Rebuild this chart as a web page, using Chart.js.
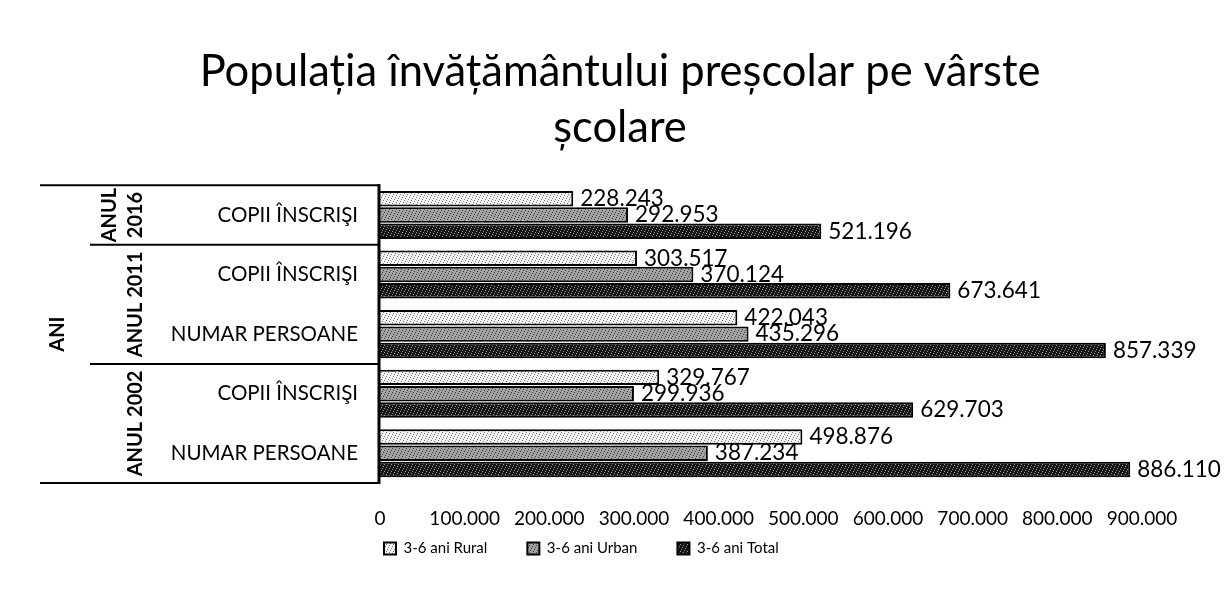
<!DOCTYPE html>
<html lang="ro">
<head>
    <meta charset="UTF-8">
    <title>Populația învățământului preșcolar</title>
    <script src="https://cdn.jsdelivr.net/npm/chart.js@4.4.0/dist/chart.umd.min.js"></script>
    <style>
        body { margin: 0; background: #fff; }
        .chart { position: relative; width: 1224px; height: 603px; }
    </style>
</head>
<body>
    <div class="chart">
        <canvas id="myChart" width="1224" height="603"></canvas>
    </div>

    <script>
        // date (de sus in jos)
        const yearLabels = ['ANUL 2016', 'ANUL 2011', 'ANUL 2002'];
        const rowLabels = ['COPII ÎNSCRIŞI', 'COPII ÎNSCRIŞI', 'NUMAR PERSOANE', 'COPII ÎNSCRIŞI', 'NUMAR PERSOANE'];
        const rowYear = [0, 1, 1, 2, 2];
        const outerLabel = 'ANI';
        const seriesNames = ['3-6 ani Rural', '3-6 ani Urban', '3-6 ani Total'];
        const rural = [228243, 303517, 422043, 329767, 498876];
        const urban = [292953, 370124, 435296, 299936, 387234];
        const total = [521196, 673641, 857339, 629703, 886110];
        const xTicks = [0, 100000, 200000, 300000, 400000, 500000, 600000, 700000, 800000, 900000];

        const FONT = 'Lato';

        function formatNumber(v) {
            return String(v).replace(/\B(?=(\d{3})+(?!\d))/g, '.');
        }

        // textura granulata ca in imaginea scanata
        function speckle(base, dot) {
            const c = document.createElement('canvas');
            c.width = 7;
            c.height = 7;
            const g = c.getContext('2d');
            g.fillStyle = base;
            g.fillRect(0, 0, 7, 7);
            g.fillStyle = dot;
            for (let y = 0; y < 7; y++) {
                for (let x = 0; x < 7; x++) {
                    if ((x * 3 + y * 5) % 7 === 0) g.fillRect(x, y, 1, 1);
                }
            }
            return g.createPattern(c, 'repeat');
        }

        const ruralFill = speckle('#f2f2f2', '#7a7a7a');
        const urbanFill = speckle('#a2a2a2', '#3a3a3a');
        const totalFill = speckle('#161616', '#9a9a9a');

        const categoryAxis = {
            id: 'categoryAxis',
            afterLayout(chart) {
                // legenda sub axa, titlul usor spre dreapta, ca in original
                const lg = chart.legend;
                lg.left = 344;
                lg.right = 344 + lg.width;
                lg.top = 501;
                lg.bottom = lg.top + lg.height;
                const tb = chart.titleBlock;
                tb.left += 8;
                tb.right += 8;
            },
            afterDraw(chart) {
                const ctx = chart.ctx;
                const area = chart.chartArea;
                const y = chart.scales.y;
                const n = rowLabels.length;
                const edge = function (i) {
                    if (i === 0) return area.top;
                    if (i === n) return area.bottom;
                    return (y.getPixelForValue(i - 1) + y.getPixelForValue(i)) / 2;
                };
                ctx.save();
                ctx.fillStyle = '#000';
                ctx.strokeStyle = '#000';

                ctx.font = '20.5px ' + FONT;
                ctx.textAlign = 'right';
                ctx.textBaseline = 'middle';
                rowLabels.forEach(function (t, i) {
                    ctx.fillText(t, area.left - 22, y.getPixelForValue(i));
                });

                // linii intre ani
                ctx.lineWidth = 2;
                ctx.beginPath();
                ctx.moveTo(40, edge(0));
                ctx.lineTo(area.left, edge(0));
                ctx.moveTo(40, edge(n));
                ctx.lineTo(area.left, edge(n));
                for (let i = 1; i < n; i++) {
                    if (rowYear[i] !== rowYear[i - 1]) {
                        ctx.moveTo(90, edge(i));
                        ctx.lineTo(area.left, edge(i));
                    }
                }
                ctx.stroke();
                ctx.lineWidth = 3;
                ctx.beginPath();
                ctx.moveTo(area.left - 1, edge(0) - 1);
                ctx.lineTo(area.left - 1, edge(n) + 1);
                ctx.stroke();

                ctx.font = 'bold 20px ' + FONT;
                ctx.textAlign = 'center';
                yearLabels.forEach(function (t, k) {
                    const rows = [];
                    rowYear.forEach(function (r, i) { if (r === k) rows.push(i); });
                    const top = edge(rows[0]);
                    const bottom = edge(rows[rows.length - 1] + 1);
                    const cy = (top + bottom) / 2;
                    ctx.save();
                    ctx.translate(136, cy);
                    ctx.rotate(-Math.PI / 2);
                    if (rows.length === 1) {
                        const parts = t.split(' ');
                        ctx.fillText(parts[0], 0, -26);
                        ctx.fillText(parts[1], 0, 0);
                    } else {
                        ctx.fillText(t, 0, 0);
                    }
                    ctx.restore();
                });

                ctx.save();
                ctx.font = 'bold 20px ' + FONT;
                ctx.translate(58, (edge(0) + edge(n)) / 2);
                ctx.rotate(-Math.PI / 2);
                ctx.fillText(outerLabel, 0, 0);
                ctx.restore();

                ctx.restore();
            },
            afterDatasetsDraw(chart) {
                const ctx = chart.ctx;
                ctx.save();
                ctx.font = '22.5px ' + FONT;
                ctx.fillStyle = '#000';
                ctx.textAlign = 'left';
                ctx.textBaseline = 'middle';
                chart.data.datasets.forEach(function (ds, d) {
                    chart.getDatasetMeta(d).data.forEach(function (bar, i) {
                        ctx.fillText(formatNumber(ds.data[i]), bar.x + 7, bar.y);
                    });
                });
                ctx.restore();
            }
        };

        const ctx = document.getElementById('myChart');
        const myChart = new Chart(ctx, {
            type: 'bar',
            data: {
                labels: rowLabels,
                datasets: [{
                    label: seriesNames[0],
                    data: rural,
                    backgroundColor: ruralFill,
                    borderColor: '#000',
                    borderWidth: 2
                }, {
                    label: seriesNames[1],
                    data: urban,
                    backgroundColor: urbanFill,
                    borderColor: '#000',
                    borderWidth: 2
                }, {
                    label: seriesNames[2],
                    data: total,
                    backgroundColor: totalFill,
                    borderColor: '#000',
                    borderWidth: 2
                }]
            },
            options: {
                indexAxis: 'y',
                responsive: false,
                animation: false,
                categoryPercentage: 0.82,
                barPercentage: 0.95,
                layout: { padding: { left: 0, right: 0, top: 44, bottom: 0 } },
                scales: {
                    x: {
                        min: xTicks[0],
                        max: xTicks[xTicks.length - 1],
                        grid: { display: false },
                        border: { display: false },
                        ticks: {
                            stepSize: xTicks[1] - xTicks[0],
                            autoSkip: false,
                            maxRotation: 0,
                            padding: 16,
                            color: '#000',
                            font: { family: FONT, size: 19 },
                            callback: function (v) { return formatNumber(v); }
                        },
                        afterFit: function (scale) { scale.height = 55; }
                    },
                    y: {
                        grid: { display: false },
                        border: { display: false },
                        ticks: { display: false },
                        afterFit: function (scale) { scale.width = 380; }
                    },
                    yRight: {
                        type: 'category',
                        position: 'right',
                        grid: { display: false },
                        border: { display: false },
                        ticks: { display: false },
                        afterFit: function (scale) { scale.width = 82; }
                    }
                },
                plugins: {
                    title: {
                        display: true,
                        text: ['Populația învățământului preșcolar pe vârste', 'școlare'],
                        color: '#000',
                        font: { family: FONT, size: 43.5, weight: 'normal', lineHeight: 1.29 },
                        padding: { top: 0, bottom: 29 }
                    },
                    legend: {
                        position: 'bottom',
                        align: 'start',
                        labels: {
                            boxWidth: 12,
                            boxHeight: 12,
                            padding: 40,
                            color: '#000',
                            font: { family: FONT, size: 15 }
                        }
                    },
                    tooltip: { enabled: false }
                }
            },
            plugins: [categoryAxis]
        });
    </script>
</body>
</html>
